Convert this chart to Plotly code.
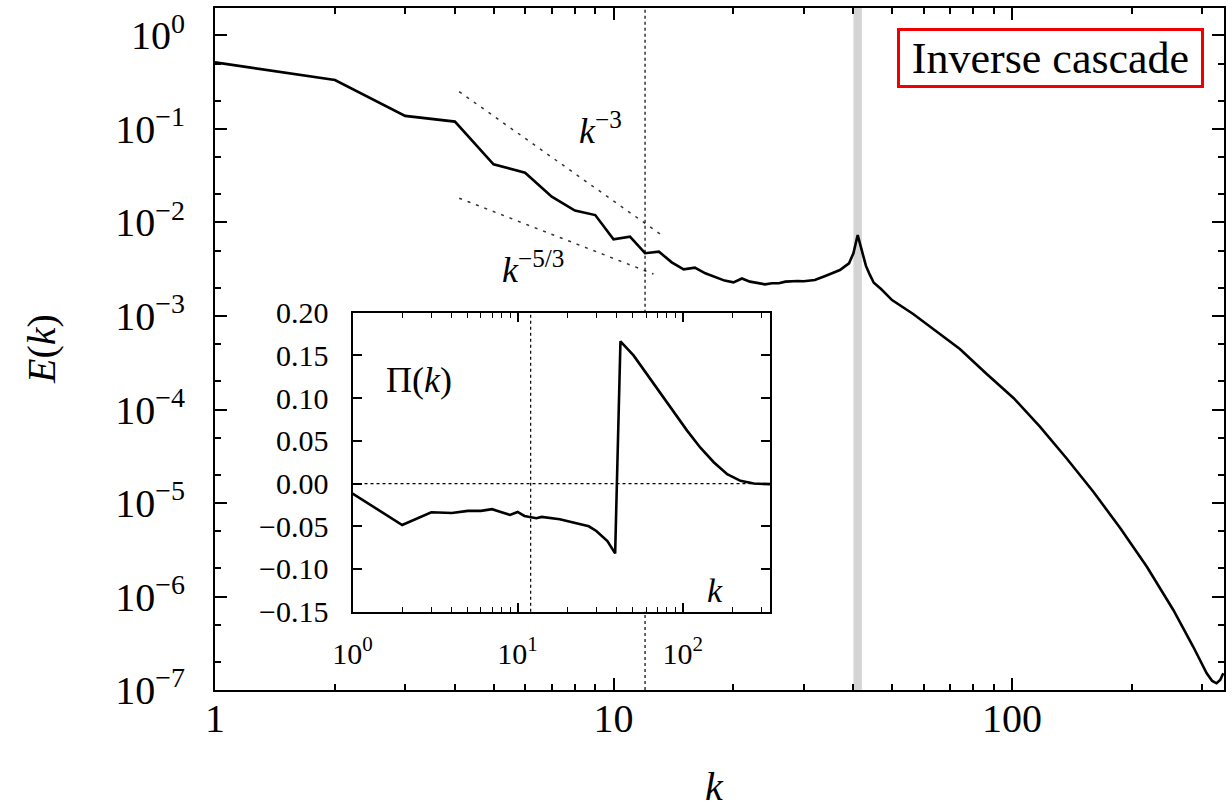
import plotly.graph_objects as go

# ---------------- data ----------------
k_E = [1, 2, 3, 4, 5, 6, 7, 8, 9, 10, 11, 12, 13, 14, 15, 16, 17, 18, 19, 20,
       21, 22, 23, 24, 25, 26, 27, 28, 29, 30, 32, 34, 35, 36, 37, 38, 39, 40,
       41, 42, 43, 44, 45, 47, 50, 56.5, 63.5, 74, 86, 101, 117.5, 137, 160,
       187, 218, 254, 285, 308, 318, 326, 333, 339]
E = [0.516, 0.334, 0.138, 0.120, 0.0419, 0.0341, 0.0189, 0.0134, 0.0120,
     0.00661, 0.00705, 0.00469, 0.00488, 0.00375, 0.00315, 0.00329, 0.00286,
     0.00259, 0.00239, 0.00229, 0.00252, 0.00233, 0.00224, 0.00218, 0.00224,
     0.00224, 0.00233, 0.00237, 0.00237, 0.00235, 0.00243, 0.00268, 0.00281,
     0.00293, 0.00310, 0.00337, 0.00366, 0.00469, 0.00735, 0.00501, 0.00343,
     0.00275, 0.00227, 0.00193, 0.00148, 0.00105, 0.000726, 0.000444,
     0.000244, 0.000132, 6.55e-5, 3.01e-5, 1.32e-5, 5.36e-6, 2.08e-6,
     7.18e-7, 2.90e-7, 1.51e-7, 1.25e-7, 1.18e-7, 1.28e-7, 1.51e-7]

k_Pi = [1, 2, 3, 4, 5, 6, 7, 8, 9, 10, 11, 13, 14, 18, 24, 27, 30, 35, 39,
        42, 50.4, 60.8, 73.2, 88.1, 106.4, 128.1, 154.3, 186.2, 224, 270, 340]
Pi = [-0.0117, -0.0485, -0.0336, -0.0344, -0.032, -0.032, -0.030, -0.034,
      -0.0367, -0.0332, -0.0379, -0.0406, -0.039, -0.0418, -0.047, -0.050,
      -0.0555, -0.0673, -0.0817, 0.1665, 0.150, 0.128, 0.105, 0.083, 0.062,
      0.042, 0.025, 0.011, 0.0032, 0.0000, -0.0007]

k_ref3 = [4.1, 13.2]
E_ref3 = [0.251, 0.00735]
k_ref53 = [4.1, 12.6]
E_ref53 = [0.0182, 0.00281]

k_mark = 12
k_force = [40.0, 42.0]

x_tickvals = [1, 10, 100]
x_ticktext = ["1", "10", "100"]
E_tickvals = [1e0, 1e-1, 1e-2, 1e-3, 1e-4, 1e-5, 1e-6, 1e-7]
E_ticktext = ["10<sup>0</sup>", "10<sup>−1</sup>", "10<sup>−2</sup>",
              "10<sup>−3</sup>", "10<sup>−4</sup>", "10<sup>−5</sup>",
              "10<sup>−6</sup>", "10<sup>−7</sup>"]
in_x_ticktext = ["10<sup>0</sup>", "10<sup>1</sup>", "10<sup>2</sup>"]
Pi_tickvals = [-0.15, -0.10, -0.05, 0.0, 0.05, 0.10, 0.15, 0.20]

# ---------------- figure ----------------
FONT = "Liberation Serif"
x_minor = [m * 10 ** e for e in range(0, 3) for m in range(2, 10)]
y_minor = [m * 10.0 ** e for e in range(-7, 1) for m in (2, 5)]

X_RANGE = [0, 2.532]
Y_RANGE = [-7, 0.294]
IN_X = [0.1363, 0.5505]
IN_Y = [0.1148, 0.5532]

fig = go.Figure()

fig.add_trace(go.Scatter(x=k_ref3, y=E_ref3, mode="lines",
                         line=dict(color="#333333", width=1.5, dash="3px,6px"),
                         xaxis="x", yaxis="y", hoverinfo="skip"))
fig.add_trace(go.Scatter(x=k_ref53, y=E_ref53, mode="lines",
                         line=dict(color="#333333", width=1.5, dash="3px,6px"),
                         xaxis="x", yaxis="y", hoverinfo="skip"))
fig.add_trace(go.Scatter(x=k_E, y=E, mode="lines",
                         line=dict(color="black", width=2.6),
                         xaxis="x", yaxis="y"))
fig.add_trace(go.Scatter(x=k_Pi, y=Pi, mode="lines",
                         line=dict(color="black", width=2.6),
                         xaxis="x2", yaxis="y2"))
fig.add_trace(go.Scatter(x=[], y=[], xaxis="x3", yaxis="y3", hoverinfo="skip"))
fig.add_trace(go.Scatter(x=[], y=[], xaxis="x4", yaxis="y2", hoverinfo="skip"))

shapes = [
    dict(type="rect", xref="x", yref="paper", x0=k_force[0], x1=k_force[1],
         y0=0, y1=1, fillcolor="#d4d4d4", line=dict(width=0), layer="below"),
    dict(type="line", xref="x", yref="paper", x0=k_mark, x1=k_mark,
         y0=0, y1=IN_Y[0], line=dict(color="black", width=1.2, dash="dot")),
    dict(type="line", xref="x", yref="paper", x0=k_mark, x1=k_mark,
         y0=IN_Y[1], y1=1, line=dict(color="black", width=1.2, dash="dot")),
    dict(type="rect", xref="x2", yref="y2 domain", x0=k_force[0], x1=k_force[1],
         y0=0, y1=1, fillcolor="#d4d4d4", line=dict(width=0), layer="below"),
    dict(type="line", xref="x2", yref="y2 domain", x0=k_mark, x1=k_mark,
         y0=0, y1=1, line=dict(color="black", width=1.2, dash="dot")),
    dict(type="line", xref="x2 domain", yref="y2", x0=0, x1=1,
         y0=0, y1=0, line=dict(color="black", width=1.2, dash="dot")),
]

def ann(text, x, y, size, **kw):
    d = dict(text=text, xref="paper", yref="paper", x=x, y=y,
             xanchor="center", yanchor="middle", showarrow=False,
             font=dict(size=size, family=FONT, color="black"))
    d.update(kw)
    return d

annotations = [
    ann("<i>E</i>(<i>k</i>)", -0.1724, 0.5, 40, textangle=-90),
    ann("<i>k</i>", 0.4955, -0.141, 40),
    ann("<i>k</i><sup>−3</sup>", 0.3816, 0.824, 36),
    ann("<i>k</i><sup>−5/3</sup>", 0.3152, 0.6188, 36),
    ann("Inverse cascade", 0.8285, 0.9267, 44,
        bordercolor="#ee0000", borderwidth=3, borderpad=2,
        width=297, height=50, bgcolor="white"),
    ann("Π(<i>k</i>)", 0.2022, 0.4545, 36),
    ann("<i>k</i>", 0.4955, 0.1466, 34),
]

def axis(**kw):
    d = dict(showline=True, linecolor="black", linewidth=2,
             mirror="ticks", ticks="inside", tickcolor="black",
             showgrid=False, zeroline=False, automargin=False)
    d.update(kw)
    return d

fig.update_layout(
    width=1232, height=810,
    margin=dict(l=215, r=8, t=8, b=120),
    paper_bgcolor="white", plot_bgcolor="white",
    showlegend=False,
    font=dict(family=FONT, color="black"),
    shapes=shapes,
    annotations=annotations,
    xaxis=axis(type="log", range=X_RANGE, domain=[0, 1], anchor="y",
               tickmode="array", tickvals=x_tickvals, ticktext=x_ticktext,
               ticklen=12, tickwidth=2, ticklabelstandoff=-8,
               tickfont=dict(size=40, family=FONT, color="black")),
    yaxis=axis(type="log", range=Y_RANGE, domain=[0, 1], anchor="x",
               tickmode="array", tickvals=E_tickvals, ticktext=E_ticktext,
               ticklen=12, tickwidth=2, ticklabelstandoff=20,
               tickfont=dict(size=40, family=FONT, color="black")),
    xaxis3=axis(type="log", range=X_RANGE, domain=[0, 1], anchor="y3",
                overlaying="x", tickmode="array", tickvals=x_minor,
                ticklen=6, tickwidth=1.6, showticklabels=False),
    yaxis3=axis(type="log", range=Y_RANGE, domain=[0, 1], anchor="x3",
                overlaying="y", tickmode="array", tickvals=y_minor,
                ticklen=6, tickwidth=1.6, showticklabels=False),
    xaxis2=axis(type="log", range=X_RANGE, domain=IN_X, anchor="y2",
                tickmode="array", tickvals=x_tickvals, ticktext=in_x_ticktext,
                ticklen=9, tickwidth=1.6, ticklabelstandoff=14,
                tickfont=dict(size=30, family=FONT, color="black")),
    yaxis2=axis(range=[-0.15, 0.20], domain=IN_Y, anchor="x2",
                tickmode="array", tickvals=Pi_tickvals, tickformat=".2f",
                ticklen=9, tickwidth=1.6, ticklabelstandoff=16,
                tickfont=dict(size=30, family=FONT, color="black")),
    xaxis4=axis(type="log", range=X_RANGE, domain=IN_X, anchor="y2",
                overlaying="x2", tickmode="array", tickvals=x_minor,
                ticklen=5, tickwidth=1.4, showticklabels=False),
)

fig.write_html("out.html")
